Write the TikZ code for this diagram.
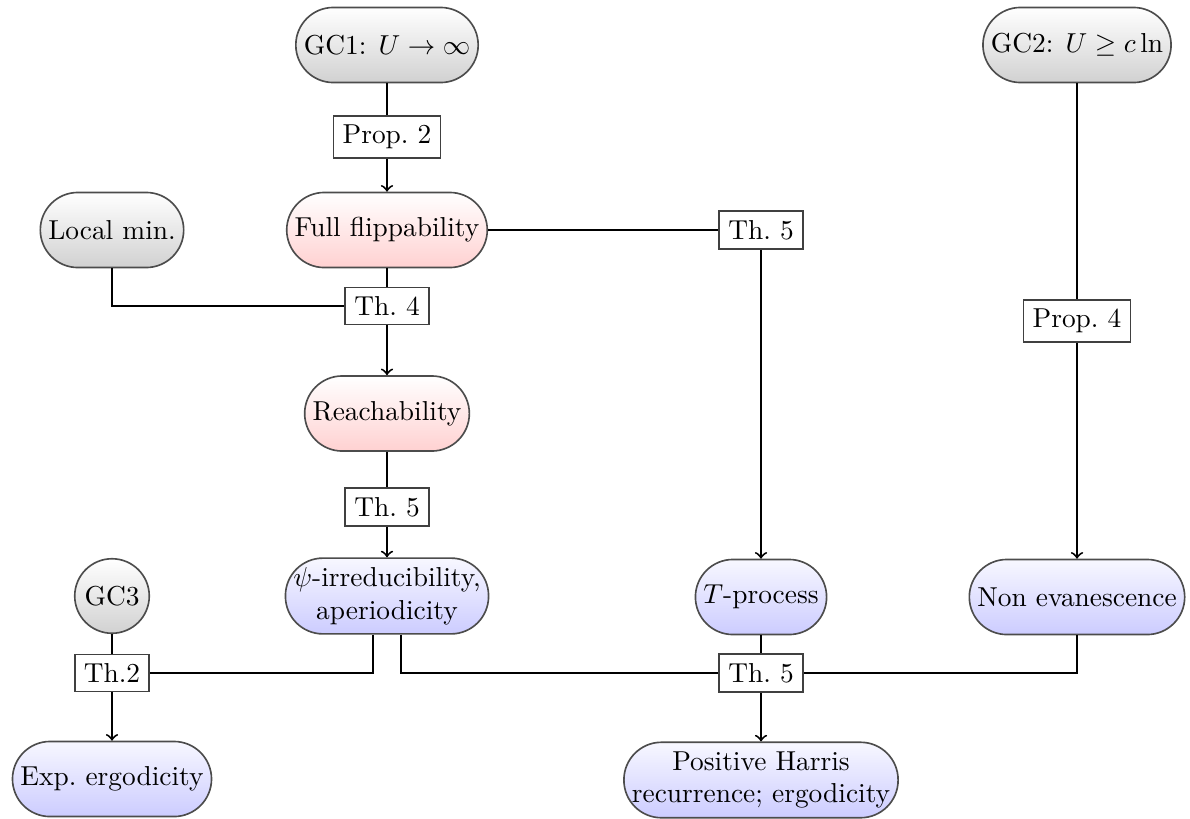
\documentclass[tikz,border=0pt]{standalone}
\begin{document}
\begin{tikzpicture}[x=0.365pt,y=-0.365pt,
 base/.style={draw=black!70, semithick, rounded corners=13.7pt, minimum height=27.4pt, inner xsep=2.9pt, inner ysep=3.33pt, align=center},
 grayn/.style={base, top color=white, bottom color=black!18},
 redn/.style={base, top color=white, bottom color=red!18},
 bluen/.style={base, top color=blue!3, bottom color=blue!20},
 lbl/.style={draw=black!75, semithick, fill=white, inner sep=3.33pt},
 conn/.style={line width=0.7pt, black},
 arr/.style={conn, ->}
]
\useasboundingbox (0,0) rectangle (1190,818);
\node[grayn] (gc1) at (387,45) {GC1: $U\to\infty$};
\node[grayn] (gc2) at (1077,45) {GC2: $U\geq c\ln$};
\node[lbl] (p2) at (387,137) {Prop.~2};
\node[redn] (ff) at (387,230) {Full flippability};
\node[grayn] (lm) at (112,230) {Local min.};
\node[lbl] (t5a) at (761,230) {Th.~5};
\node[lbl] (t4) at (387,306) {Th.~4};
\node[redn] (re) at (387,413.5) {Reachability};
\node[lbl] (p4) at (1077,321) {Prop.~4};
\node[lbl] (t5b) at (387,507) {Th.~5};
\node[bluen] (psi) at (387,596) {$\psi$-irreducibility,\\aperiodicity};
\node[grayn, circle, minimum size=27.2pt, inner sep=0pt] (gc3) at (112,596) {GC3};
\node[bluen] (tp) at (761,597) {$T$-process};
\node[bluen] (ne) at (1077,597) {Non evanescence};
\node[lbl] (t2) at (112,673) {Th.2};
\node[lbl] (t5c) at (761,673) {Th.~5};
\node[bluen] (ee) at (112,779) {Exp.~ergodicity};
\node[bluen] (ph) at (761,780) {Positive Harris\\recurrence; ergodicity};

\draw[conn] (gc1) -- (p2);
\draw[arr] (p2) -- (ff);
\draw[conn] (ff) -- (t5a);
\draw[arr] (t5a) -- (tp);
\draw[conn] (lm.south) |- (t4.west);
\draw[conn] (ff) -- (t4);
\draw[arr] (t4) -- (re);
\draw[conn] (re) -- (t5b);
\draw[arr] (t5b) -- (psi);
\draw[conn] (gc2) -- (p4);
\draw[arr] (p4) -- (ne);
\draw[conn] (gc3) -- (t2);
\draw[conn] ([xshift=-5.1pt]psi.south) |- (t2.east);
\draw[conn] ([xshift=5.1pt]psi.south) |- (t5c.west);
\draw[conn] (ne.south) |- (t5c.east);
\draw[conn] (tp) -- (t5c);
\draw[arr] (t5c) -- (ph);
\draw[arr] (t2) -- (ee);
\end{tikzpicture}
\end{document}
